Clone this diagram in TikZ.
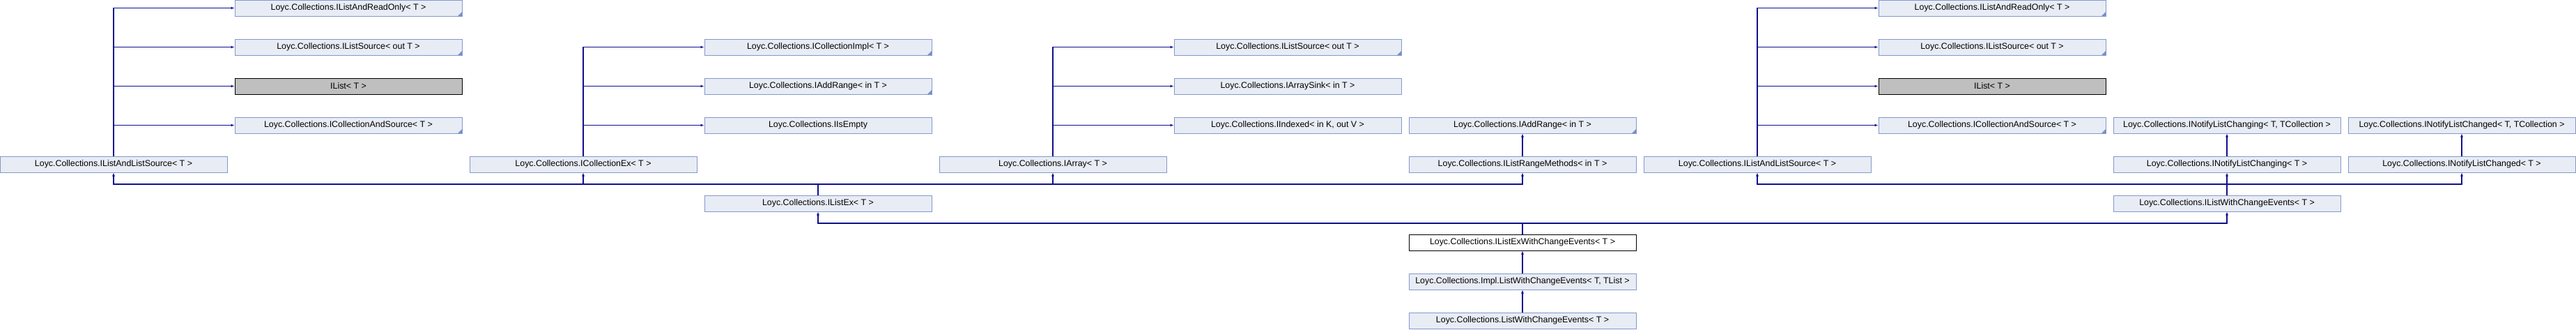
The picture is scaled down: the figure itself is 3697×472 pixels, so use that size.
\documentclass[tikz,border=0pt]{standalone}
\usepackage{fontspec}
\setmainfont{Liberation Sans}
\usetikzlibrary{arrows.meta}
\definecolor{boxfill}{RGB}{232,236,244}
\definecolor{boxline}{RGB}{132,152,204}
\definecolor{linkblue}{RGB}{16,16,140}
\definecolor{foldblue}{RGB}{120,142,200}
\begin{document}
\begin{tikzpicture}[
    x=1pt, y=-1pt,
    >={Latex[length=5pt,width=4pt]},
    iface/.style={rectangle, draw=boxline, fill=boxfill, line width=1pt, minimum width=326pt, minimum height=23pt, inner sep=0pt, text centered, font=\fontsize{12.4}{14}\selectfont},
    extiface/.style={iface, path picture={\fill[foldblue] (path picture bounding box.south east) -- ++(-6pt,0pt) -- ++(6pt,6pt) -- cycle;}},
    external/.style={iface, draw=black, fill=black!25},
    current/.style={iface, draw=black, fill=white},
    link/.style={->, draw=linkblue, line width=1.1pt}
]
\useasboundingbox (0,0) rectangle (3697,472);

% Left group
\node[iface] (ilalsA) at (163,235.5) {Loyc.Collections.IListAndListSource< T >};
\node[extiface] (readonlyA) at (500,11.5) {Loyc.Collections.IListAndReadOnly< T >};
\node[extiface] (listsrcA) at (500,67.5) {Loyc.Collections.IListSource< out T >};
\node[external] (ilistA) at (500,123.5) {IList< T >};
\node[extiface] (collsrcA) at (500,179.5) {Loyc.Collections.ICollectionAndSource< T >};

\node[iface] (collex) at (837,235.5) {Loyc.Collections.ICollectionEx< T >};
\node[extiface] (collimpl) at (1174,67.5) {Loyc.Collections.ICollectionImpl< T >};
\node[extiface] (addrangeD) at (1174,123.5) {Loyc.Collections.IAddRange< in T >};
\node[iface] (isempty) at (1174,179.5) {Loyc.Collections.IIsEmpty};

\node[iface] (iarray) at (1511,235.5) {Loyc.Collections.IArray< T >};
\node[extiface] (listsrcF) at (1848,67.5) {Loyc.Collections.IListSource< out T >};
\node[iface] (arraysink) at (1848,123.5) {Loyc.Collections.IArraySink< in T >};
\node[iface] (iindexed) at (1848,179.5) {Loyc.Collections.IIndexed< in K, out V >};

\node[iface] (rangemeth) at (2185,235.5) {Loyc.Collections.IListRangeMethods< in T >};
\node[extiface] (addrangeG) at (2185,179.5) {Loyc.Collections.IAddRange< in T >};

% Right group
\node[iface] (ilalsH) at (2522,235.5) {Loyc.Collections.IListAndListSource< T >};
\node[extiface] (readonlyI) at (2859,11.5) {Loyc.Collections.IListAndReadOnly< T >};
\node[extiface] (listsrcI) at (2859,67.5) {Loyc.Collections.IListSource< out T >};
\node[external] (ilistI) at (2859,123.5) {IList< T >};
\node[extiface] (collsrcI) at (2859,179.5) {Loyc.Collections.ICollectionAndSource< T >};

\node[iface] (changingTC) at (3196,179.5) {Loyc.Collections.INotifyListChanging< T, TCollection >};
\node[iface] (changing) at (3196,235.5) {Loyc.Collections.INotifyListChanging< T >};
\node[iface] (changedTC) at (3533,179.5) {Loyc.Collections.INotifyListChanged< T, TCollection >};
\node[iface] (changed) at (3533,235.5) {Loyc.Collections.INotifyListChanged< T >};

% Lower chain
\node[iface] (listex) at (1174,291.5) {Loyc.Collections.IListEx< T >};
\node[iface] (withchange) at (3196,291.5) {Loyc.Collections.IListWithChangeEvents< T >};
\node[current] (exwithchange) at (2185,347.5) {Loyc.Collections.IListExWithChangeEvents< T >};
\node[iface] (impllist) at (2185,403.5) {Loyc.Collections.Impl.ListWithChangeEvents< T, TList >};
\node[iface] (listwce) at (2185,459.5) {Loyc.Collections.ListWithChangeEvents< T >};

% Bus points
\coordinate (busL) at (1174,264);
\coordinate (busR) at (3196,264);
\coordinate (busM) at (2185,320);

% Arrows
\draw[link] (ilalsA) |- (readonlyA);
\draw[link] (ilalsA) |- (listsrcA);
\draw[link] (ilalsA) |- (ilistA);
\draw[link] (ilalsA) |- (collsrcA);

\draw[link] (collex) |- (collimpl);
\draw[link] (collex) |- (addrangeD);
\draw[link] (collex) |- (isempty);

\draw[link] (iarray) |- (listsrcF);
\draw[link] (iarray) |- (arraysink);
\draw[link] (iarray) |- (iindexed);

\draw[link] (rangemeth) -- (addrangeG);

\draw[link] (ilalsH) |- (readonlyI);
\draw[link] (ilalsH) |- (listsrcI);
\draw[link] (ilalsH) |- (ilistI);
\draw[link] (ilalsH) |- (collsrcI);

\draw[link] (changing) -- (changingTC);
\draw[link] (changed) -- (changedTC);

\draw[link] (listex) -- (busL) -| (ilalsA);
\draw[link] (listex) -- (busL) -| (collex);
\draw[link] (listex) -- (busL) -| (iarray);
\draw[link] (listex) -- (busL) -| (rangemeth);

\draw[link] (withchange) -- (busR) -| (ilalsH);
\draw[link] (withchange) -- (busR) -| (changing);
\draw[link] (withchange) -- (busR) -| (changed);

\draw[link] (exwithchange) -- (busM) -| (listex);
\draw[link] (exwithchange) -- (busM) -| (withchange);

\draw[link] (impllist) -- (exwithchange);
\draw[link] (listwce) -- (impllist);

\end{tikzpicture}
\end{document}
